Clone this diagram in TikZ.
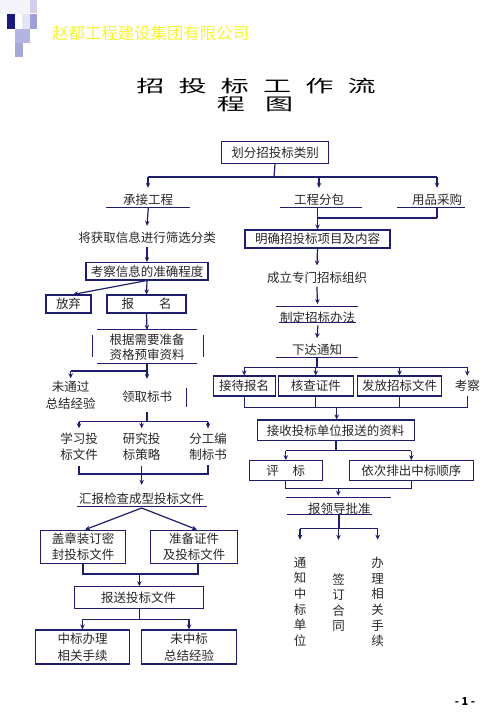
\documentclass[tikz,border=0pt]{standalone}
\usepackage{fontspec}
\setmainfont{Noto Sans CJK SC}
\usetikzlibrary{arrows.meta}
\definecolor{navy}{RGB}{30,30,110}
\definecolor{txt}{RGB}{40,40,40}
\definecolor{hdr}{RGB}{245,245,50}
\newcommand\fs{\fontsize{12.5}{15.5}\selectfont}
\newcommand\fsb{\fontsize{12.5}{17}\selectfont}
\tikzset{
 bx/.style={draw=navy,line width=1.1pt,inner sep=0pt,text=txt,align=center,font=\fs},
 tx/.style={inner sep=0pt,text=txt,align=center,font=\fs},
 ln/.style={draw=navy,line width=1.2pt},
 thk/.style={draw=navy,line width=2pt},
 ul/.style={draw=navy,line width=0.9pt},
 arr/.style={ln,-{Stealth[length=5pt,width=4.5pt]}},
 sq/.style={draw=none},
}
\begin{document}
\begin{tikzpicture}[x=1pt,y=-1pt]
\useasboundingbox (0,0) rectangle (503,726);
\fill[white] (0,0) rectangle (503,726);
% header squares
\fill[sq,fill={rgb,255:red,244;green,244;blue,250}] (0,0) rectangle (30,14);
\fill[sq,fill={rgb,255:red,208;green,208;blue,236}] (30,0) rectangle (37,13);
\fill[sq,fill={rgb,255:red,26;green,26;blue,128}] (7,14) rectangle (15,29);
\fill[sq,fill={rgb,255:red,228;green,228;blue,244}] (22,14) rectangle (30,29);
\fill[sq,fill={rgb,255:red,160;green,160;blue,216}] (30,14) rectangle (37,29);
\fill[sq,fill={rgb,255:red,180;green,180;blue,224}] (15,29) rectangle (30,43);
\fill[sq,fill={rgb,255:red,168;green,168;blue,212}] (15,43) rectangle (23,57);
\node[inner sep=0pt,anchor=west,text=hdr,font=\fontsize{16.4}{16.4}\selectfont] (hd) at (52,33) {赵都工程建设集团有限公司};
% title
\node[inner sep=0pt,font=\fontsize{17}{17}\selectfont] (ti1) at (256,85.8) {\scalebox{1.65}[1]{招\hspace{8.6pt}投\hspace{8.6pt}标\hspace{8.6pt}工\hspace{8.6pt}作\hspace{8.6pt}流}};
\node[inner sep=0pt,font=\fontsize{17}{17}\selectfont] (ti2) at (255,104.2) {\scalebox{1.65}[1]{程\hspace{12.3pt}图}};

% ---- top
\node[bx,minimum width=107pt,minimum height=21.6pt] (b1) at (275,152.5) {划分招投标类别};
\node[tx,minimum height=24pt] (t1) at (148,200) {承接工程};
\node[tx,minimum height=24pt] (t2) at (319,200) {工程分包};
\node[tx,minimum height=24pt] (t3) at (437,200) {用品采购};
\draw[ul] (106,207) -- (190,207);
\draw[ul] (280,207) -- (362,207);
\draw[ul] (397,207) -- (465,207);
\coordinate (j1) at (274,177);
\draw[ln] (b1.south) -- (j1);
\draw[ln] (t1.north |- j1) -- (t3.north |- j1);
\draw[arr] (t1.north |- j1) -- (t1.north);
\draw[arr] (t2.north |- j1) -- (t2.north);
\draw[arr] (t3.north |- j1) -- (t3.north);

% ---- left column
\node[tx,minimum height=24pt] (t4) at (147,238) {将获取信息进行筛选分类};
\draw[arr,shorten <=-5pt] (t1.south) -- (t4.north);
\node[bx,minimum width=122pt,minimum height=17.3pt] (b3) at (147,271.3) {考察信息的准确程度};
\draw[arr,shorten <=-3.5pt] (t4.south) -- (b3.north);
\node[bx,minimum width=45pt,minimum height=18pt] (b4) at (68.5,304) {放弃};
\node[bx,minimum width=79pt,minimum height=18pt] (b5) at (146.5,304) {报\hspace{2em}名};
\draw[arr] (b3.south) -- ([xshift=4.5pt]b4.north);
\draw[arr] (b3.south) -- (b5.north);
\node[tx,minimum width=100pt,minimum height=34pt] (t6) at (147,347) {根据需要准备\\资格预审资料};
\draw[ul] (97,329.5) -- (197,329.5);
\draw[ul] (97,363) -- (197,363);
\draw[ul] (92,335) -- (92,357);
\draw[ul] (203,335) -- (203,357);
\draw[arr] (b5.south) -- (t6.north);
\node[tx,font=\fsb,minimum height=34pt] (t7) at (70.7,395.5) {未通过\\总结经验};
\node[tx,minimum height=36pt] (t8) at (147,397) {领取标书};
\draw[ul] (186,388) -- (186,407);
\coordinate (j3) at (147,371);
\draw[ln] (t6.south) -- (j3);
\draw[ln] (j3) -- (t7.north |- j3);
\draw[arr] (t7.north |- j3) -- (t7.north);
\draw[arr] (j3) -- (t8.north);
\node[tx,minimum height=36pt] (t9) at (79,446.5) {学习投\\标文件};
\node[tx,minimum height=36pt] (t10) at (141.7,446.5) {研究投\\标策略};
\node[tx,minimum height=36pt] (t11) at (208,446.5) {分工编\\制标书};
\coordinate (j4) at (147,421.7);
\draw[ln,shorten <=-3pt] (t8.south) -- (j4);
\draw[ln] (t9.north |- j4) -- (t11.north |- j4);
\draw[arr] (t9.north |- j4) -- (t9.north);
\draw[arr] (t10.north |- j4) -- (t10.north);
\draw[arr] (t11.north |- j4) -- (t11.north);
\node[tx,minimum height=28pt] (t12) at (141.7,499) {汇报检查成型投标文件};
\draw[ul] (77,506) -- (207,506);
\coordinate (j5) at (141.7,474);
\draw[ln,shorten <=1.5pt] (t9.south) |- (j5) -| (t11.south);
\draw[ln,shorten <=1.5pt] (t10.south) -- (j5);
\draw[arr] (j5) -- (t12.north);
\coordinate (j6) at (141.7,508);
\node[bx,minimum width=84.3pt,minimum height=33pt] (b6) at (83,546.7) {盖章装订密\\封投标文件};
\node[bx,minimum width=86.6pt,minimum height=33pt] (b7) at (194,546.7) {准备证件\\及投标文件};
\draw[arr] (j6) -- ([xshift=2pt]b6.north);
\draw[arr] (j6) -- ([xshift=3pt]b7.north);
\node[bx,minimum width=129.3pt,minimum height=21.6pt] (b8) at (138.7,597.5) {报送投标文件};
\coordinate (j7) at (139.3,574);
\draw[ln] (b6.south) |- (j7);
\draw[ln] ([xshift=4pt]b7.south) |- (j7);
\draw[arr] (j7) -- (j7 |- b8.north);
\node[bx,minimum width=93.6pt,minimum height=34pt,font=\fsb] (b9) at (82.5,647) {中标办理\\相关手续};
\node[bx,minimum width=95pt,minimum height=34pt,font=\fsb] (b10) at (189,647) {未中标\\总结经验};
\coordinate (j8) at (139.3,619.3);
\draw[ln] (j8 |- b8.south) -- (j8);
\draw[arr] (j8) -| (b9.north);
\draw[arr] (j8) -| (b10.north);

% ---- right column
\node[bx,minimum width=145pt,minimum height=18pt] (b2) at (317.5,239) {明确招投标项目及内容};
\draw[arr,shorten <=-5pt] (b2.north |- t2.south) -- (b2.north);
\coordinate (j2) at (437,218);
\draw[ln,shorten <=-5pt] (t3.south) -- (j2);
\draw[ln] (j2) -- (b2.north |- j2);
\node[tx,minimum height=23.2pt] (t13) at (317,277.3) {成立专门招标组织};
\draw[arr] (b2.south) -- (t13.north);
\node[tx,minimum height=26.8pt] (t14) at (317.5,317.7) {制定招标办法};
\draw[ul] (276,306.7) -- (358.3,306.7);
\draw[ul] (279,322.7) -- (356,322.7);
\draw[arr,shorten <=-2.5pt] (t13.south) -- (t14.north);
\node[tx,minimum height=23.4pt] (t15) at (317,350) {下达通知};
\draw[ul] (276,357.7) -- (358,357.7);
\draw[arr,shorten <=-6pt] (t14.south) -- (t15.north);
\node[bx,minimum width=61.7pt,minimum height=20pt] (b11) at (244.2,386) {接待报名};
\node[bx,minimum width=75pt,minimum height=20pt] (b12) at (315.8,386) {核查证件};
\node[bx,minimum width=84.4pt,minimum height=20pt] (b13) at (399.5,386) {发放招标文件};
\node[tx,minimum height=20pt] (t16) at (467.3,386) {考察};
\coordinate (j9) at (317,367.3);
\draw[thk,shorten <=-4pt] (t15.south) -- (j9);
\draw[ln] (b11.north |- j9) -- (t16.north |- j9);
\draw[arr] (b11.north |- j9) -- (b11.north);
\draw[arr] (b12.north |- j9) -- (b12.north);
\draw[arr] (b13.north |- j9) -- (b13.north);
\draw[arr] (t16.north |- j9) -- (t16.north);
\node[bx,minimum width=156.7pt,minimum height=20.7pt] (b14) at (335.7,430.3) {接收投标单位报送的资料};
\coordinate (j10) at (336.7,407.3);
\draw[ln] (b11.south) |- (j10);
\draw[ln] (t16.south) |- (j10);
\draw[ln] (b12.south) -- (b12.south |- j10);
\draw[ln] (b13.south) -- (b13.south |- j10);
\draw[arr] (j10) -- (j10 |- b14.north);
\node[bx,minimum width=73pt,minimum height=20pt] (b15) at (285.8,470.7) {评\hspace{1.1em}标};
\node[bx,minimum width=124pt,minimum height=20pt] (b16) at (411.3,470.7) {依次排出中标顺序};
\coordinate (j11) at (336,450.7);
\draw[ln] (j11 |- b14.south) -- (j11);
\draw[ln] (b15.north |- j11) -- (b16.north |- j11);
\draw[arr] (b15.north |- j11) -- (b15.north);
\draw[arr] (b16.north |- j11) -- (b16.north);
\node[tx,minimum height=24.6pt] (t17) at (339.3,508.3) {报领导批准};
\draw[ul] (286,497.3) -- (390.7,497.3);
\draw[ul] (287.3,514.3) -- (371.7,514.3);
\coordinate (j12) at (338.3,488.3);
\draw[ln] (b15.south) |- (j12);
\draw[ln] (b16.south) |- (j12);
\draw[arr] (j12) -- (j12 |- t17.north);
\node[tx,font=\fontsize{12.5}{15.65}\selectfont,minimum height=114pt] (t18) at (300,601.9) {通\\知\\中\\标\\单\\位};
\node[tx,font=\fontsize{12.5}{15.6}\selectfont,minimum height=115.4pt] (t19) at (338.5,602.7) {签\\订\\合\\同};
\node[tx,font=\fontsize{12.5}{15.65}\selectfont,minimum height=114pt] (t20) at (377.7,601.9) {办\\理\\相\\关\\手\\续};
\coordinate (j13) at (338.5,528.8);
\draw[thk,shorten <=-6.3pt] (j13 |- t17.south) -- (j13);
\draw[ln] (t18.north |- j13) -- (t20.north |- j13);
\draw[arr,shorten >=5pt] (t18.north |- j13) -- (t18.north);
\draw[arr,shorten >=5pt] (t19.north |- j13) -- (t19.north);
\draw[arr,shorten >=5pt] (t20.north |- j13) -- (t20.north);

% page number
\node[inner sep=0pt,font=\fontsize{11}{11}\selectfont\bfseries] (pg) at (465,701) {- 1 -};
\end{tikzpicture}
\end{document}
